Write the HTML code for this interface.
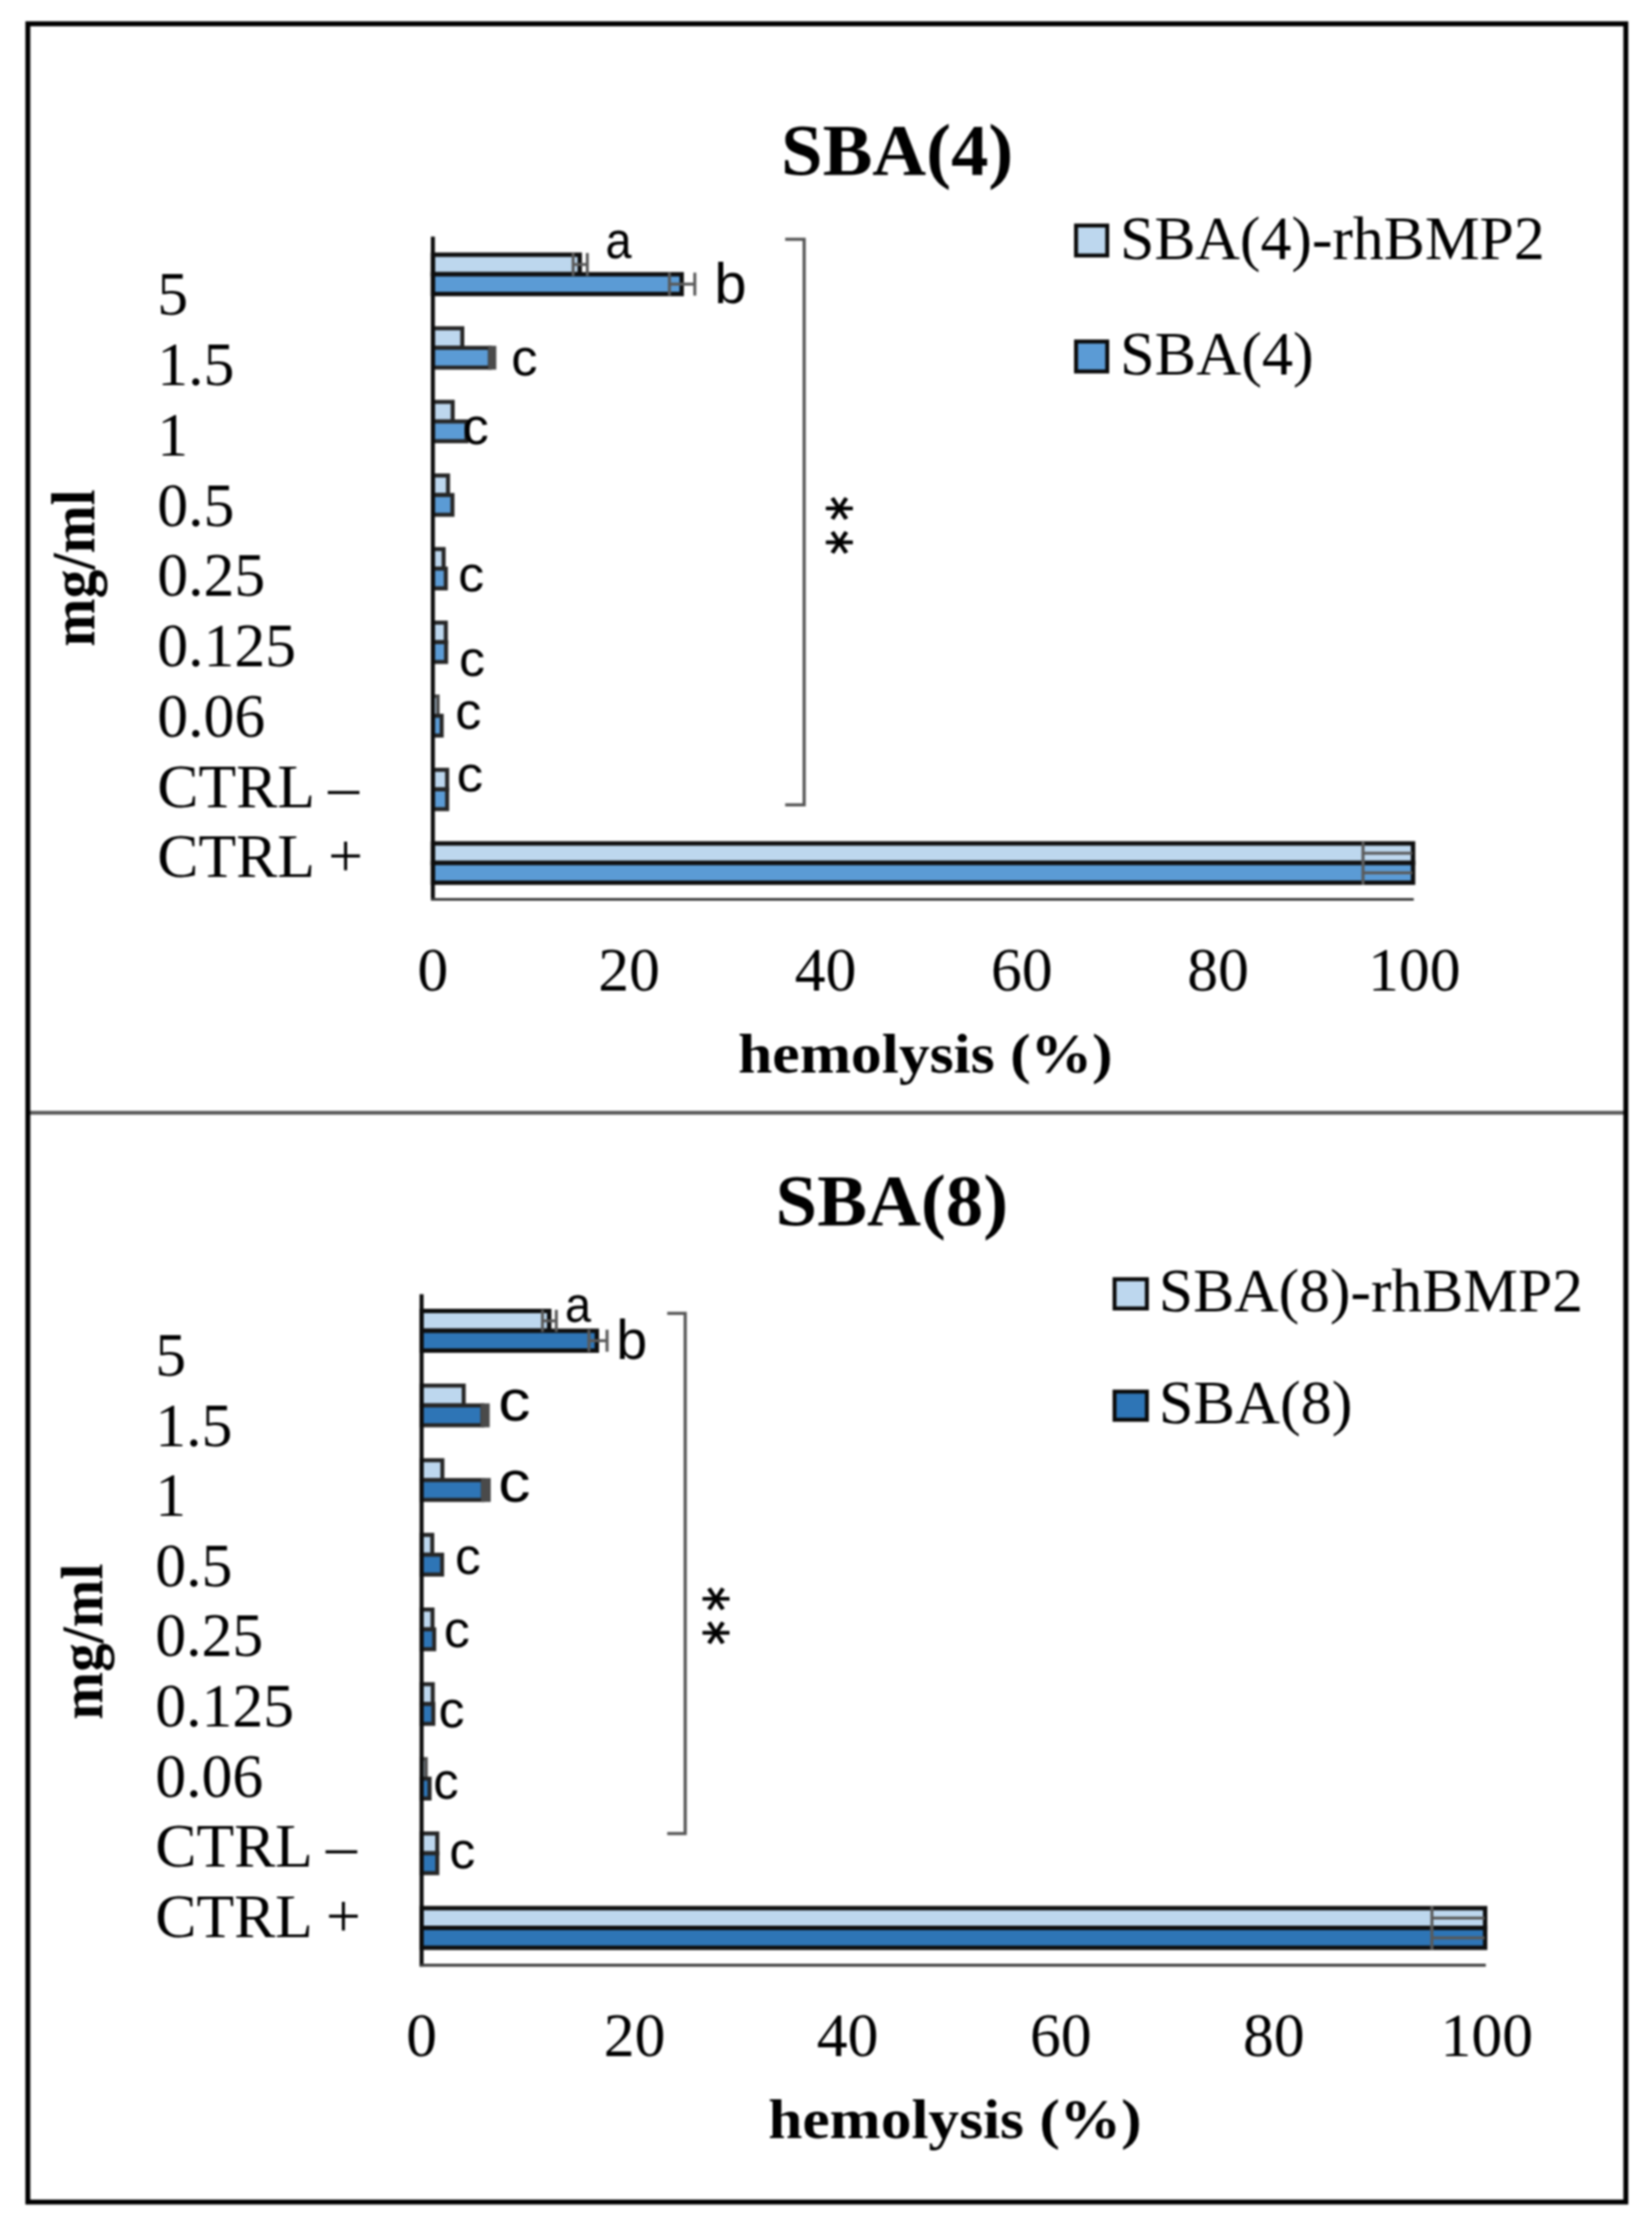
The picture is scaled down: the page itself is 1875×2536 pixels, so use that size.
<!DOCTYPE html>
<html lang="en"><head><meta charset="utf-8"><title>Hemolysis SBA(4) / SBA(8)</title>
<style>
html,body{margin:0;padding:0;background:#fff;}
body{width:1875px;height:2536px;overflow:hidden;}
svg{display:block;filter:blur(0.85px);}
text{white-space:pre;}
</style></head><body>
<svg width="1875" height="2536" viewBox="0 0 1875 2536">
<rect x="0" y="0" width="1875" height="2536" fill="#fff"/>
<line x1="31.50" y1="1262.60" x2="1845.00" y2="1262.60" stroke="#575757" stroke-width="4.4" stroke-linecap="butt"/>
<rect x="31.6" y="27" width="1813.7" height="2471.6" fill="none" stroke="#000" stroke-width="5.6"/>
<rect x="491.30" y="289.00" width="166.70" height="22.20" fill="#BDD7EE" stroke="#0f0f0f" stroke-width="5"/>
<rect x="491.30" y="311.20" width="282.40" height="22.40" fill="#5B9BD5" stroke="#0f0f0f" stroke-width="5"/>
<rect x="491.30" y="372.50" width="33.40" height="22.20" fill="#BDD7EE" stroke="#262626" stroke-width="4.6"/>
<rect x="491.30" y="394.70" width="64.70" height="22.40" fill="#5B9BD5" stroke="#262626" stroke-width="4.6"/>
<rect x="491.30" y="456.00" width="22.50" height="22.20" fill="#BDD7EE" stroke="#262626" stroke-width="4.6"/>
<rect x="491.30" y="478.20" width="38.20" height="22.40" fill="#5B9BD5" stroke="#262626" stroke-width="4.6"/>
<rect x="491.30" y="539.50" width="17.20" height="22.20" fill="#BDD7EE" stroke="#262626" stroke-width="4.6"/>
<rect x="491.30" y="561.70" width="22.20" height="22.40" fill="#5B9BD5" stroke="#262626" stroke-width="4.6"/>
<rect x="491.30" y="623.00" width="12.20" height="22.20" fill="#BDD7EE" stroke="#262626" stroke-width="4.6"/>
<rect x="491.30" y="645.20" width="14.70" height="22.40" fill="#5B9BD5" stroke="#262626" stroke-width="4.6"/>
<rect x="491.30" y="706.50" width="14.70" height="22.20" fill="#BDD7EE" stroke="#262626" stroke-width="4.6"/>
<rect x="491.30" y="728.70" width="15.00" height="22.40" fill="#5B9BD5" stroke="#262626" stroke-width="4.6"/>
<rect x="491.30" y="790.00" width="5.70" height="22.20" fill="#BDD7EE" stroke="#4d4d4d" stroke-width="4.0"/>
<rect x="491.30" y="812.20" width="10.00" height="22.40" fill="#5B9BD5" stroke="#262626" stroke-width="4.6"/>
<rect x="491.30" y="873.50" width="16.20" height="22.20" fill="#BDD7EE" stroke="#262626" stroke-width="4.6"/>
<rect x="491.30" y="895.70" width="16.20" height="22.40" fill="#5B9BD5" stroke="#262626" stroke-width="4.6"/>
<rect x="491.30" y="957.00" width="1112.50" height="22.20" fill="#BDD7EE" stroke="#0f0f0f" stroke-width="5"/>
<rect x="491.30" y="979.20" width="1112.50" height="22.40" fill="#5B9BD5" stroke="#0f0f0f" stroke-width="5"/>
<line x1="650.50" y1="300.10" x2="666.60" y2="300.10" stroke="#5a5a5a" stroke-width="3.4" stroke-linecap="butt"/>
<line x1="650.50" y1="287.10" x2="650.50" y2="313.10" stroke="#5a5a5a" stroke-width="3.4" stroke-linecap="butt"/>
<line x1="666.60" y1="287.10" x2="666.60" y2="313.10" stroke="#5a5a5a" stroke-width="3.4" stroke-linecap="butt"/>
<line x1="759.80" y1="322.40" x2="788.60" y2="322.40" stroke="#5a5a5a" stroke-width="3.4" stroke-linecap="butt"/>
<line x1="759.80" y1="309.40" x2="759.80" y2="335.40" stroke="#5a5a5a" stroke-width="3.4" stroke-linecap="butt"/>
<line x1="788.60" y1="309.40" x2="788.60" y2="335.40" stroke="#5a5a5a" stroke-width="3.4" stroke-linecap="butt"/>
<rect x="554.00" y="392.40" width="9.30" height="27.00" fill="#4a4a4a"/>
<line x1="1547.00" y1="968.10" x2="1603.00" y2="968.10" stroke="#5a5a5a" stroke-width="3.4" stroke-linecap="butt"/>
<line x1="1547.00" y1="954.60" x2="1547.00" y2="981.60" stroke="#5a5a5a" stroke-width="3.4" stroke-linecap="butt"/>
<line x1="1547.00" y1="990.40" x2="1603.00" y2="990.40" stroke="#5a5a5a" stroke-width="3.4" stroke-linecap="butt"/>
<line x1="1547.00" y1="976.90" x2="1547.00" y2="1003.90" stroke="#5a5a5a" stroke-width="3.4" stroke-linecap="butt"/>
<line x1="491.30" y1="268.50" x2="491.30" y2="1022.00" stroke="#0d0d0d" stroke-width="4.6" stroke-linecap="butt"/>
<line x1="489.00" y1="1020.50" x2="1604.60" y2="1020.50" stroke="#3a3a3a" stroke-width="3.2" stroke-linecap="butt"/>
<polyline points="891.2,271.5 912.7,271.5 912.7,913.2 891.2,913.2" fill="none" stroke="#565656" stroke-width="3.6"/>
<text transform="translate(920.15,563.25) rotate(90) scale(0.5500,0.6418)" font-family='"DejaVu Sans", "Liberation Sans", sans-serif' font-weight="normal" font-size="100" fill="#000" stroke="#000" stroke-width="2.2" stroke-linejoin="round">*</text>
<text transform="translate(920.15,601.85) rotate(90) scale(0.5500,0.6418)" font-family='"DejaVu Sans", "Liberation Sans", sans-serif' font-weight="normal" font-size="100" fill="#000" stroke="#000" stroke-width="2.2" stroke-linejoin="round">*</text>
<text transform="translate(687.34,293.31) scale(0.5327,0.5863)" font-family='"Liberation Sans", sans-serif' font-weight="normal" font-size="100" fill="#000">a</text>
<text transform="translate(810.82,344.06) scale(0.6578,0.6422)" font-family='"Liberation Sans", sans-serif' font-weight="normal" font-size="100" fill="#000">b</text>
<text transform="translate(580.36,425.71) scale(0.5977,0.5936)" font-family='"Liberation Sans", sans-serif' font-weight="normal" font-size="100" fill="#000">c</text>
<text transform="translate(525.07,503.81) scale(0.5953,0.5863)" font-family='"Liberation Sans", sans-serif' font-weight="normal" font-size="100" fill="#000">c</text>
<text transform="translate(519.89,671.02) scale(0.5907,0.5772)" font-family='"Liberation Sans", sans-serif' font-weight="normal" font-size="100" fill="#000">c</text>
<text transform="translate(521.09,766.62) scale(0.5907,0.5826)" font-family='"Liberation Sans", sans-serif' font-weight="normal" font-size="100" fill="#000">c</text>
<text transform="translate(516.78,827.31) scale(0.5930,0.5863)" font-family='"Liberation Sans", sans-serif' font-weight="normal" font-size="100" fill="#000">c</text>
<text transform="translate(518.14,898.02) scale(0.6023,0.5772)" font-family='"Liberation Sans", sans-serif' font-weight="normal" font-size="100" fill="#000">c</text>
<text transform="translate(178.60,357.30) scale(0.7000,0.7000)" font-family='"Liberation Serif", serif' font-weight="normal" font-size="100" fill="#000">5</text>
<text transform="translate(178.60,437.05) scale(0.7000,0.7000)" font-family='"Liberation Serif", serif' font-weight="normal" font-size="100" fill="#000">1.5</text>
<text transform="translate(178.60,516.80) scale(0.7000,0.7000)" font-family='"Liberation Serif", serif' font-weight="normal" font-size="100" fill="#000">1</text>
<text transform="translate(178.60,596.55) scale(0.7000,0.7000)" font-family='"Liberation Serif", serif' font-weight="normal" font-size="100" fill="#000">0.5</text>
<text transform="translate(178.60,676.30) scale(0.7000,0.7000)" font-family='"Liberation Serif", serif' font-weight="normal" font-size="100" fill="#000">0.25</text>
<text transform="translate(178.60,756.05) scale(0.7000,0.7000)" font-family='"Liberation Serif", serif' font-weight="normal" font-size="100" fill="#000">0.125</text>
<text transform="translate(178.60,835.80) scale(0.7000,0.7000)" font-family='"Liberation Serif", serif' font-weight="normal" font-size="100" fill="#000">0.06</text>
<text transform="translate(178.60,915.55) scale(0.7000,0.7000)" font-family='"Liberation Serif", serif' font-weight="normal" font-size="100" fill="#000">CTRL –</text>
<text transform="translate(178.60,995.30) scale(0.7000,0.7000)" font-family='"Liberation Serif", serif' font-weight="normal" font-size="100" fill="#000">CTRL +</text>
<text transform="translate(473.80,1124.20) scale(0.7000,0.7000)" font-family='"Liberation Serif", serif' font-weight="normal" font-size="100" fill="#000">0</text>
<text transform="translate(679.10,1124.20) scale(0.7000,0.7000)" font-family='"Liberation Serif", serif' font-weight="normal" font-size="100" fill="#000">20</text>
<text transform="translate(901.90,1124.20) scale(0.7000,0.7000)" font-family='"Liberation Serif", serif' font-weight="normal" font-size="100" fill="#000">40</text>
<text transform="translate(1124.70,1124.20) scale(0.7000,0.7000)" font-family='"Liberation Serif", serif' font-weight="normal" font-size="100" fill="#000">60</text>
<text transform="translate(1347.50,1124.20) scale(0.7000,0.7000)" font-family='"Liberation Serif", serif' font-weight="normal" font-size="100" fill="#000">80</text>
<text transform="translate(1552.80,1124.20) scale(0.7000,0.7000)" font-family='"Liberation Serif", serif' font-weight="normal" font-size="100" fill="#000">100</text>
<text transform="translate(837.75,1217.10) scale(0.6991,0.6374)" font-family='"Liberation Serif", serif' font-weight="bold" font-size="100" fill="#000">hemolysis (%)</text>
<text transform="translate(106.61,733.70) rotate(-90) scale(0.6558,0.6995)" font-family='"Liberation Serif", serif' font-weight="bold" font-size="100" fill="#000">mg/ml</text>
<text transform="translate(886.55,197.50) scale(0.8468,0.8350)" font-family='"Liberation Serif", serif' font-weight="bold" font-size="100" fill="#000">SBA(4)</text>
<rect x="1221.30" y="255.90" width="35.40" height="34.00" fill="#BDD7EE" stroke="#0a0a0a" stroke-width="4.5"/>
<text transform="translate(1271.28,294.00) scale(0.6997,0.7000)" font-family='"Liberation Serif", serif' font-weight="normal" font-size="100" fill="#000">SBA(4)-rhBMP2</text>
<rect x="1221.30" y="387.50" width="35.40" height="34.00" fill="#5B9BD5" stroke="#0a0a0a" stroke-width="4.5"/>
<text transform="translate(1271.23,425.40) scale(0.7067,0.7000)" font-family='"Liberation Serif", serif' font-weight="normal" font-size="100" fill="#000">SBA(4)</text>
<rect x="478.50" y="1487.50" width="144.80" height="22.50" fill="#BDD7EE" stroke="#0f0f0f" stroke-width="5"/>
<rect x="478.50" y="1510.00" width="198.90" height="22.50" fill="#2E75B6" stroke="#0f0f0f" stroke-width="5"/>
<rect x="478.50" y="1572.20" width="47.80" height="22.50" fill="#BDD7EE" stroke="#262626" stroke-width="4.6"/>
<rect x="478.50" y="1594.70" width="69.00" height="22.50" fill="#2E75B6" stroke="#262626" stroke-width="4.6"/>
<rect x="478.50" y="1656.90" width="23.60" height="22.50" fill="#BDD7EE" stroke="#262626" stroke-width="4.6"/>
<rect x="478.50" y="1679.40" width="69.50" height="22.50" fill="#2E75B6" stroke="#262626" stroke-width="4.6"/>
<rect x="478.50" y="1741.60" width="12.10" height="22.50" fill="#BDD7EE" stroke="#262626" stroke-width="4.6"/>
<rect x="478.50" y="1764.10" width="23.30" height="22.50" fill="#2E75B6" stroke="#262626" stroke-width="4.6"/>
<rect x="478.50" y="1826.30" width="12.40" height="22.50" fill="#BDD7EE" stroke="#262626" stroke-width="4.6"/>
<rect x="478.50" y="1848.80" width="14.30" height="22.50" fill="#2E75B6" stroke="#262626" stroke-width="4.6"/>
<rect x="478.50" y="1911.00" width="12.70" height="22.50" fill="#BDD7EE" stroke="#262626" stroke-width="4.6"/>
<rect x="478.50" y="1933.50" width="13.30" height="22.50" fill="#2E75B6" stroke="#262626" stroke-width="4.6"/>
<rect x="478.50" y="1995.70" width="5.00" height="22.50" fill="#BDD7EE" stroke="#4d4d4d" stroke-width="4.0"/>
<rect x="478.50" y="2018.20" width="9.00" height="22.50" fill="#2E75B6" stroke="#262626" stroke-width="4.6"/>
<rect x="478.50" y="2080.40" width="17.80" height="22.50" fill="#BDD7EE" stroke="#262626" stroke-width="4.6"/>
<rect x="478.50" y="2102.90" width="17.80" height="22.50" fill="#2E75B6" stroke="#262626" stroke-width="4.6"/>
<rect x="478.50" y="2165.10" width="1207.10" height="22.50" fill="#BDD7EE" stroke="#0f0f0f" stroke-width="5"/>
<rect x="478.50" y="2187.60" width="1207.10" height="22.50" fill="#2E75B6" stroke="#0f0f0f" stroke-width="5"/>
<line x1="615.70" y1="1498.75" x2="631.40" y2="1498.75" stroke="#5a5a5a" stroke-width="3.4" stroke-linecap="butt"/>
<line x1="615.70" y1="1486.25" x2="615.70" y2="1511.25" stroke="#5a5a5a" stroke-width="3.4" stroke-linecap="butt"/>
<line x1="631.40" y1="1486.25" x2="631.40" y2="1511.25" stroke="#5a5a5a" stroke-width="3.4" stroke-linecap="butt"/>
<line x1="668.40" y1="1521.25" x2="689.00" y2="1521.25" stroke="#5a5a5a" stroke-width="3.4" stroke-linecap="butt"/>
<line x1="668.40" y1="1508.75" x2="668.40" y2="1533.75" stroke="#5a5a5a" stroke-width="3.4" stroke-linecap="butt"/>
<line x1="689.00" y1="1508.75" x2="689.00" y2="1533.75" stroke="#5a5a5a" stroke-width="3.4" stroke-linecap="butt"/>
<rect x="545.50" y="1592.40" width="10.30" height="27.10" fill="#4a4a4a"/>
<rect x="546.00" y="1677.10" width="11.00" height="27.10" fill="#4a4a4a"/>
<line x1="1625.20" y1="2176.35" x2="1685.00" y2="2176.35" stroke="#5a5a5a" stroke-width="3.4" stroke-linecap="butt"/>
<line x1="1625.20" y1="2162.85" x2="1625.20" y2="2189.85" stroke="#5a5a5a" stroke-width="3.4" stroke-linecap="butt"/>
<line x1="1625.20" y1="2198.85" x2="1685.00" y2="2198.85" stroke="#5a5a5a" stroke-width="3.4" stroke-linecap="butt"/>
<line x1="1625.20" y1="2185.35" x2="1625.20" y2="2212.35" stroke="#5a5a5a" stroke-width="3.4" stroke-linecap="butt"/>
<line x1="478.50" y1="1468.50" x2="478.50" y2="2231.30" stroke="#0d0d0d" stroke-width="4.6" stroke-linecap="butt"/>
<line x1="476.20" y1="2229.80" x2="1686.40" y2="2229.80" stroke="#3a3a3a" stroke-width="3.2" stroke-linecap="butt"/>
<polyline points="757.3,1490.3 777.7,1490.3 777.7,2080.5 757.3,2080.5" fill="none" stroke="#565656" stroke-width="3.6"/>
<text transform="translate(780.05,1800.45) rotate(90) scale(0.5500,0.6418)" font-family='"DejaVu Sans", "Liberation Sans", sans-serif' font-weight="normal" font-size="100" fill="#000" stroke="#000" stroke-width="2.2" stroke-linejoin="round">*</text>
<text transform="translate(780.05,1839.05) rotate(90) scale(0.5500,0.6418)" font-family='"DejaVu Sans", "Liberation Sans", sans-serif' font-weight="normal" font-size="100" fill="#000" stroke="#000" stroke-width="2.2" stroke-linejoin="round">*</text>
<text transform="translate(641.24,1500.42) scale(0.5327,0.5772)" font-family='"Liberation Sans", sans-serif' font-weight="normal" font-size="100" fill="#000">a</text>
<text transform="translate(699.40,1541.97) scale(0.6311,0.6259)" font-family='"Liberation Sans", sans-serif' font-weight="normal" font-size="100" fill="#000">b</text>
<text transform="translate(565.60,1611.83) scale(0.7302,0.6685)" font-family='"Liberation Sans", sans-serif' font-weight="normal" font-size="100" fill="#000">c</text>
<text transform="translate(565.60,1703.83) scale(0.7302,0.6685)" font-family='"Liberation Sans", sans-serif' font-weight="normal" font-size="100" fill="#000">c</text>
<text transform="translate(516.52,1785.70) scale(0.5837,0.5973)" font-family='"Liberation Sans", sans-serif' font-weight="normal" font-size="100" fill="#000">c</text>
<text transform="translate(503.79,1868.60) scale(0.5907,0.5973)" font-family='"Liberation Sans", sans-serif' font-weight="normal" font-size="100" fill="#000">c</text>
<text transform="translate(497.79,1959.90) scale(0.5907,0.5973)" font-family='"Liberation Sans", sans-serif' font-weight="normal" font-size="100" fill="#000">c</text>
<text transform="translate(491.75,2041.02) scale(0.5767,0.5845)" font-family='"Liberation Sans", sans-serif' font-weight="normal" font-size="100" fill="#000">c</text>
<text transform="translate(509.89,2119.72) scale(0.5907,0.5845)" font-family='"Liberation Sans", sans-serif' font-weight="normal" font-size="100" fill="#000">c</text>
<text transform="translate(176.20,1561.00) scale(0.7000,0.7000)" font-family='"Liberation Serif", serif' font-weight="normal" font-size="100" fill="#000">5</text>
<text transform="translate(176.20,1640.60) scale(0.7000,0.7000)" font-family='"Liberation Serif", serif' font-weight="normal" font-size="100" fill="#000">1.5</text>
<text transform="translate(176.20,1720.20) scale(0.7000,0.7000)" font-family='"Liberation Serif", serif' font-weight="normal" font-size="100" fill="#000">1</text>
<text transform="translate(176.20,1799.80) scale(0.7000,0.7000)" font-family='"Liberation Serif", serif' font-weight="normal" font-size="100" fill="#000">0.5</text>
<text transform="translate(176.20,1879.40) scale(0.7000,0.7000)" font-family='"Liberation Serif", serif' font-weight="normal" font-size="100" fill="#000">0.25</text>
<text transform="translate(176.20,1959.00) scale(0.7000,0.7000)" font-family='"Liberation Serif", serif' font-weight="normal" font-size="100" fill="#000">0.125</text>
<text transform="translate(176.20,2038.60) scale(0.7000,0.7000)" font-family='"Liberation Serif", serif' font-weight="normal" font-size="100" fill="#000">0.06</text>
<text transform="translate(176.20,2118.20) scale(0.7000,0.7000)" font-family='"Liberation Serif", serif' font-weight="normal" font-size="100" fill="#000">CTRL –</text>
<text transform="translate(176.20,2197.80) scale(0.7000,0.7000)" font-family='"Liberation Serif", serif' font-weight="normal" font-size="100" fill="#000">CTRL +</text>
<text transform="translate(461.00,2333.00) scale(0.7000,0.7000)" font-family='"Liberation Serif", serif' font-weight="normal" font-size="100" fill="#000">0</text>
<text transform="translate(685.30,2333.00) scale(0.7000,0.7000)" font-family='"Liberation Serif", serif' font-weight="normal" font-size="100" fill="#000">20</text>
<text transform="translate(927.10,2333.00) scale(0.7000,0.7000)" font-family='"Liberation Serif", serif' font-weight="normal" font-size="100" fill="#000">40</text>
<text transform="translate(1168.90,2333.00) scale(0.7000,0.7000)" font-family='"Liberation Serif", serif' font-weight="normal" font-size="100" fill="#000">60</text>
<text transform="translate(1410.70,2333.00) scale(0.7000,0.7000)" font-family='"Liberation Serif", serif' font-weight="normal" font-size="100" fill="#000">80</text>
<text transform="translate(1635.00,2333.00) scale(0.7000,0.7000)" font-family='"Liberation Serif", serif' font-weight="normal" font-size="100" fill="#000">100</text>
<text transform="translate(871.96,2425.88) scale(0.6968,0.6429)" font-family='"Liberation Serif", serif' font-weight="bold" font-size="100" fill="#000">hemolysis (%)</text>
<text transform="translate(115.61,1951.19) rotate(-90) scale(0.6502,0.6678)" font-family='"Liberation Serif", serif' font-weight="bold" font-size="100" fill="#000">mg/ml</text>
<text transform="translate(880.35,1390.40) scale(0.8481,0.8350)" font-family='"Liberation Serif", serif' font-weight="bold" font-size="100" fill="#000">SBA(8)</text>
<rect x="1265.00" y="1451.50" width="36.70" height="33.20" fill="#BDD7EE" stroke="#0a0a0a" stroke-width="4.5"/>
<text transform="translate(1315.28,1488.00) scale(0.6989,0.7000)" font-family='"Liberation Serif", serif' font-weight="normal" font-size="100" fill="#000">SBA(8)-rhBMP2</text>
<rect x="1265.00" y="1579.00" width="36.70" height="32.00" fill="#2E75B6" stroke="#0a0a0a" stroke-width="4.5"/>
<text transform="translate(1315.23,1615.40) scale(0.7067,0.7000)" font-family='"Liberation Serif", serif' font-weight="normal" font-size="100" fill="#000">SBA(8)</text>
</svg>
</body></html>
